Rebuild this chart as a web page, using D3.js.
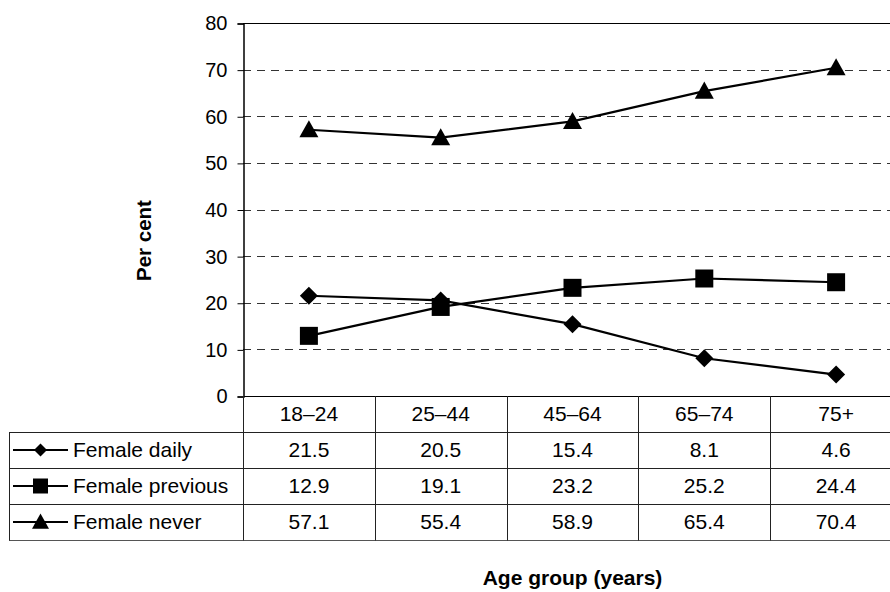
<!DOCTYPE html>
<html>
<head>
<meta charset="utf-8">
<script src="https://cdn.jsdelivr.net/npm/d3@7"></script>
<style>
  html, body { margin: 0; padding: 0; background: #fff; }
  svg { display: block; font-family: "Liberation Sans", Arial, sans-serif; }
</style>
</head>
<body>
<svg id="chart" width="890" height="592"></svg>
<script>
// Smoking status of women by age group (per cent)
const categories = ["18–24", "25–44", "45–64", "65–74", "75+"];
const seriesNames = ["Female daily", "Female previous", "Female never"];
const femaleDaily = [21.5, 20.5, 15.4, 8.1, 4.6];
const femalePrevious = [12.9, 19.1, 23.2, 25.2, 24.4];
const femaleNever = [57.1, 55.4, 58.9, 65.4, 70.4];
const yTicks = [0, 10, 20, 30, 40, 50, 60, 70, 80];

const series = [
  { name: seriesNames[0], values: femaleDaily, marker: "diamond" },
  { name: seriesNames[1], values: femalePrevious, marker: "square" },
  { name: seriesNames[2], values: femaleNever, marker: "triangle" }
];

const svg = d3.select("#chart");
const FONT = "Liberation Sans, Arial, sans-serif";

// plot frame (right edge runs past the canvas)
const plotLeft = 243, plotRight = 902, plotTop = 23, plotBottom = 396;
const tableLeft = 9, rowH = 36;

const x = d3.scaleBand().domain(categories).range([plotLeft, plotRight]).padding(0);
const y = d3.scaleLinear().domain([0, 80]).range([plotBottom, plotTop]);
const cx = c => x(c) + x.bandwidth() / 2;

// marker shapes, r = half-size
function markerPath(type, r) {
  const p = d3.path();
  if (type === "diamond") {
    p.moveTo(0, -r); p.lineTo(r, 0); p.lineTo(0, r); p.lineTo(-r, 0); p.closePath();
  } else if (type === "square") {
    p.rect(-r, -r, 2 * r, 2 * r);
  } else {
    p.moveTo(0, -r); p.lineTo(r, r * 0.8); p.lineTo(-r, r * 0.8); p.closePath();
  }
  return p.toString();
}
const plotSize = { diamond: 9, square: 9, triangle: 9.5 };
const legendSize = { diamond: 6.5, square: 7.5, triangle: 8.5 };

// dashed gridlines
svg.append("g")
  .selectAll("line")
  .data(yTicks.filter(t => t > 0 && t < 80))
  .join("line")
  .attr("x1", plotLeft).attr("x2", plotRight)
  .attr("y1", d => Math.round(y(d)) + 0.5).attr("y2", d => Math.round(y(d)) + 0.5)
  .attr("stroke", "#333").attr("stroke-width", 1)
  .attr("stroke-dasharray", "8,6");

// top border of the plot
svg.append("line")
  .attr("x1", plotLeft).attr("x2", plotRight)
  .attr("y1", Math.round(y(80)) + 0.5).attr("y2", Math.round(y(80)) + 0.5)
  .attr("stroke", "#000").attr("stroke-width", 1.2);

// y axis
const yAxis = d3.axisLeft(y).tickValues(yTicks).tickSize(6).tickPadding(10).tickFormat(d3.format("d"));
const yg = svg.append("g").attr("transform", `translate(${plotLeft + 0.5},0.5)`).call(yAxis);
yg.attr("font-size", 20).attr("font-family", FONT);
yg.select(".domain").attr("stroke", "#000").attr("stroke-width", 1.5);
yg.selectAll(".tick line").attr("stroke", "#000");
yg.selectAll(".tick text").attr("fill", "#000");

// y title
svg.append("text")
  .attr("transform", `translate(151,${(plotTop + plotBottom) / 2 + 31}) rotate(-90)`)
  .attr("text-anchor", "middle")
  .attr("font-size", 20.5).attr("font-weight", "bold")
  .text("Per cent");

// lines and markers
const line = d3.line().x((d, i) => cx(categories[i])).y(d => y(d));
series.forEach(s => {
  svg.append("path")
    .datum(s.values)
    .attr("d", line)
    .attr("fill", "none").attr("stroke", "#000").attr("stroke-width", 2.2);
  svg.append("g").selectAll("path")
    .data(s.values)
    .join("path")
    .attr("transform", (d, i) => `translate(${cx(categories[i])},${y(d)})`)
    .attr("d", markerPath(s.marker, plotSize[s.marker]))
    .attr("fill", "#000");
});

// data table
const table = svg.append("g").attr("stroke", "#222").attr("stroke-width", 1).attr("fill", "none");
const tableBottom = plotBottom + rowH * 4;
// horizontal rules
table.append("line").attr("x1", plotLeft).attr("x2", plotRight)
  .attr("y1", plotBottom + 0.5).attr("y2", plotBottom + 0.5).attr("stroke", "#000");
for (let r = 1; r <= 4; r++) {
  const yy = plotBottom + r * rowH + 0.5;
  table.append("line").attr("x1", tableLeft).attr("x2", plotRight).attr("y1", yy).attr("y2", yy)
    .attr("stroke", r === 4 ? "#555" : "#222");
}
// vertical rules
table.append("line").attr("x1", tableLeft + 0.5).attr("x2", tableLeft + 0.5)
  .attr("y1", plotBottom + rowH).attr("y2", tableBottom + 0.5);
categories.forEach(c => {
  const xx = Math.round(x(c)) + 0.5;
  table.append("line").attr("x1", xx).attr("x2", xx).attr("y1", plotBottom).attr("y2", tableBottom + 0.5);
});

// header row
svg.append("g").selectAll("text")
  .data(categories)
  .join("text")
  .attr("x", d => cx(d)).attr("y", plotBottom + rowH / 2 + 7)
  .attr("text-anchor", "middle").attr("font-size", 21)
  .text(d => d);

// value rows with legend keys
const fmt = d3.format(".1f");
series.forEach((s, r) => {
  const rowMid = plotBottom + rowH * (r + 1) + rowH / 2;
  svg.append("g").selectAll("text")
    .data(s.values)
    .join("text")
    .attr("x", (d, i) => cx(categories[i])).attr("y", rowMid + 7)
    .attr("text-anchor", "middle").attr("font-size", 21)
    .text(d => fmt(d));
  svg.append("line").attr("x1", 13).attr("x2", 68).attr("y1", rowMid).attr("y2", rowMid)
    .attr("stroke", "#000").attr("stroke-width", 2);
  svg.append("path")
    .attr("transform", `translate(40.5,${rowMid})`)
    .attr("d", markerPath(s.marker, legendSize[s.marker]))
    .attr("fill", "#000");
  svg.append("text")
    .attr("x", 73).attr("y", rowMid + 7)
    .attr("font-size", 21)
    .text(s.name);
});

// x title
svg.append("text")
  .attr("x", (plotLeft + plotRight) / 2).attr("y", 585)
  .attr("text-anchor", "middle")
  .attr("font-size", 21).attr("font-weight", "bold")
  .text("Age group (years)");
</script>
</body>
</html>
